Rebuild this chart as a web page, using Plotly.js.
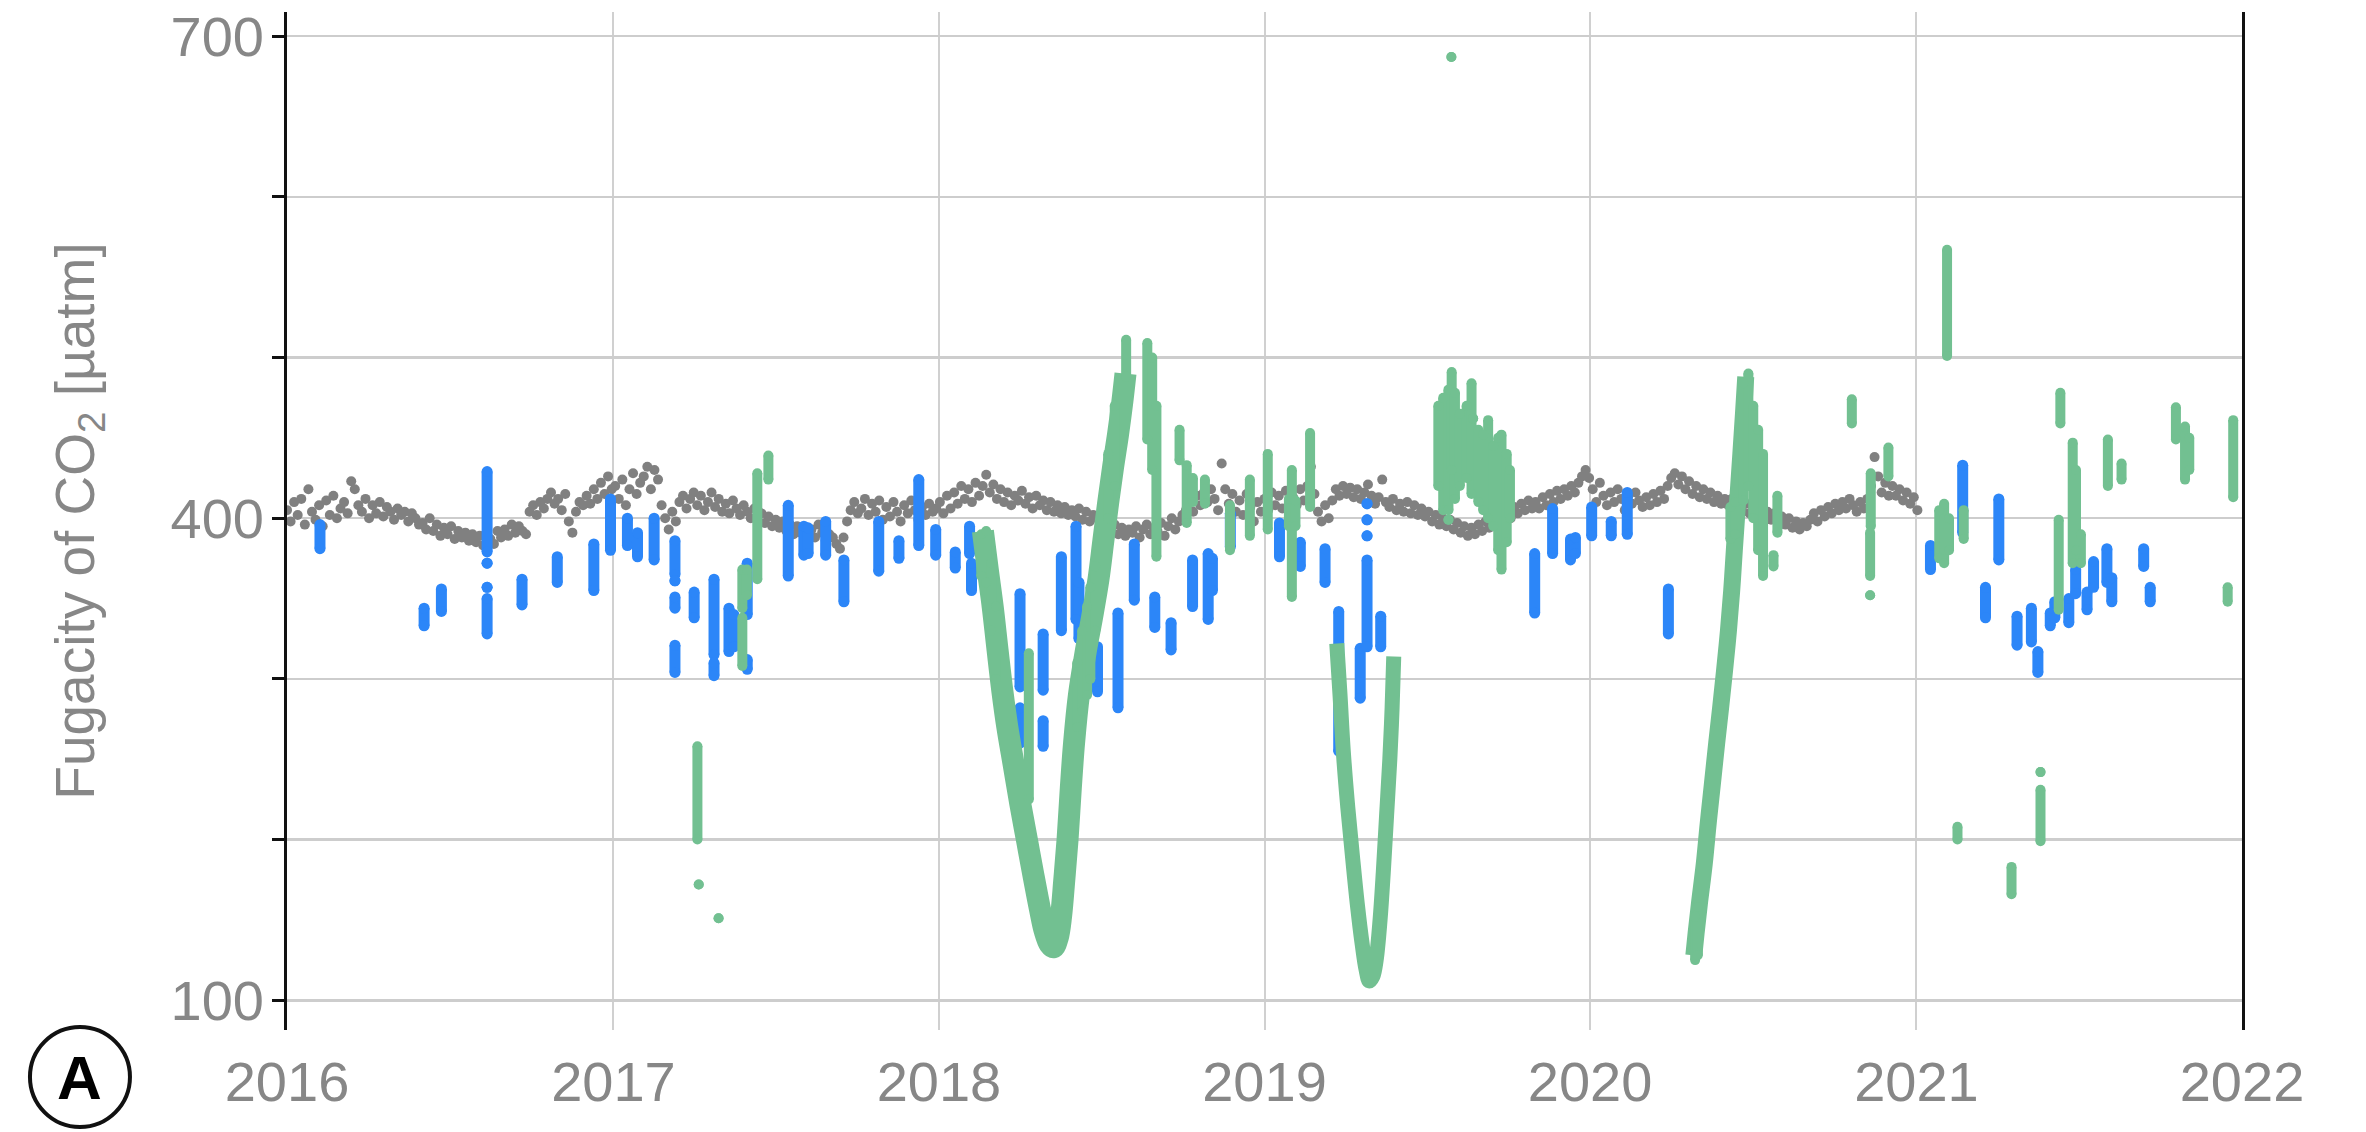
<!DOCTYPE html>
<html><head><meta charset="utf-8">
<script src="https://cdn.plot.ly/plotly-3.0.1.min.js"></script>
<style>html,body{margin:0;padding:0;background:#fff}#chart{width:2366px;height:1132px}</style>
</head><body><div id="chart"></div>
<script>
// ---------- axis labels ----------
const yearLabels = ['2016','2017','2018','2019','2020','2021','2022'];
const yGridVals = [100,200,300,400,500,600,700];
const yLabelVals = [100,400,700];

// ---------- grey series (atmospheric), one reading every 4 days from 2016-01-01 ----------
const greyStart = '2016-01-01';
const greyStepDays = 4;
const greyVals = [
// 2016
405,398,410,402,412,396,418,404, 399,408,395,411,402,414,400, 406,410,403,423,418,408,404,412,
400,408,403,410,401,407,404, 399,406,402,404,398,403,400,396, 397,393,400,392,396,389,394,
390,395,387,392,388,391,386,390, 385,389,383,391,387,384,392,388, 393,389,396,391,395,392,390,
404,408,402,410,406,412,416,409, 412,405,415,398,391,404,410,408, 414,409,418,412,422,415,426,418,
// 2017
420,412,424,408,418,428,415,422, 426,432,418,430,424,408,400, 393,404,398,410,414,406,412,416,
408,414,405,410,416,407,412,404, 409,403,411,406,402,408,404, 400,406,398,403,397,401,395,399,
394,398,392,396,390,395,391,394, 389,393,388,396,391,386,390, 388,384,381,388,398,405,410,403,
406,412,402,409,404,411,399, 407,401,410,404,398,408,403,411, 405,399,407,402,409,404,406,
// 2018
410,403,414,406,416,409,420,412, 418,410,422,414,420,427,416, 421,412,418,410,416,408,414,411,
417,409,413,406,414,408,411,405, 410,404,408,403,407,402,405, 401,406,399,404,398,402,400,397,
395,399,392,396,390,394,389,393, 391,395,388,393,396,390,394, 392,397,389,395,400,393,398,402,
405,410,404,414,408,416,410,418, 412,405,434,418,409,415,404, 411,402,415,407,398,410,404,
// 2019
412,405,416,408,414,406,417,410, 413,408,418,411,420,432,415, 404,398,408,400,411,418,414,420,
415,419,413,418,412,416,421, 414,409,413,424,410,407,412,405, 409,404,410,403,408,402,406,
401,404,398,402,396,400,395,399, 393,397,391,395,389,394,390,396, 392,398,394,400,396,402,399,
404,400,407,403,409,405,411,406, 410,406,413,408,415,410,417, 412,418,414,420,416,422,426,430,
// 2020
425,
418,410,422,414,408,416,410,418, 412,405,414,409,416,411,407, 413,408,415,410,417,412,420,425,
428,421,426,418,423,415,420,413, 418,412,416,410,414,409,412, 408,412,406,410,404,409,403,406,
402,406,400,404,399,403,398,401, 396,400,394,398,393,397,395, 399,403,398,405,401,407,403,409,
405,410,406,412,408,404,410,406, 412,420,438,426,416,422,414, 420,414,418,411,416,409,413,405
];

// ---------- blue streaks: decimal year, lowest and highest reading ----------
const blueT = [
2016.101,2016.42,2016.473,2016.613,2016.613,2016.613,2016.613,2016.72,2016.828,2016.94,2016.991,
2017.043,2017.074,2017.125,2017.189,2017.189,2017.189,2017.189,2017.248,2017.309,2017.309,2017.355,2017.37,2017.411,2017.411,2017.537,2017.585,2017.598,2017.652,2017.708,2017.815,2017.877,2017.938,2017.99,
2018.05,2018.094,2018.1,2018.249,2018.249,2018.32,2018.32,2018.376,2018.421,2018.43,2018.487,2018.55,2018.6,2018.663,2018.713,2018.779,2018.827,2018.84,2018.895,
2019.046,2019.11,2019.186,2019.228,2019.294,2019.315,2019.315,2019.315,2019.315,2019.357,2019.83,2019.885,2019.94,2019.955,2020.005,
2020.065,2020.114,2020.24,
2021.043,2021.142,2021.212,2021.253,2021.309,2021.353,2021.373,2021.411,2021.425,2021.468,2021.489,2021.524,2021.544,2021.585,2021.6,2021.698,2021.718
];
const blueLo = [
381,333,342,379,372,357,328,346,360,355,380,
383,376,374,365,361,344,304,338,315,302,317,320,340,306,364,377,378,377,348,367,375,383,377,
369,378,355,295,260,293,258,330,337,325,292,282,349,332,318,345,337,355,382,
376,370,360,255,288,409,399,389,320,320,341,378,374,378,389,
389,390,328,
368,391,338,374,321,323,304,333,338,335,353,343,357,360,348,370,348
];
const blueHi = [
396,344,356,429,372,357,350,362,376,384,412,
400,391,400,386,361,351,321,354,362,310,344,340,372,312,408,395,394,398,374,398,386,424,393,
379,395,372,353,282,328,274,376,395,360,320,341,384,351,335,374,378,375,403,
397,385,381,342,319,409,399,389,374,339,378,406,387,388,407,
398,416,356,
383,433,357,412,339,344,317,341,348,350,368,354,373,381,363,381,357
];

// ---------- green streaks: decimal year, lowest and highest reading ----------
const greenT = [
2017.258,2017.262,2017.323,2017.396,2017.396,2017.41,2017.442,2017.476,
2018.13,2018.145,2018.16,2018.175,2018.276,2018.425,2018.44,2018.455,2018.465,2018.48,2018.52,2018.54,2018.575,2018.64,2018.655,2018.668,2018.739,2018.761,2018.78,2018.817,2018.894,2018.955,2019.01,
2019.075,2019.084,2019.095,2019.14,
2019.534,2019.549,2019.565,2019.565,2019.575,2019.585,2019.6,2019.621,2019.636,2019.641,2019.657,2019.672,2019.687,2019.703,2019.718,2019.728,2019.744,2019.754,
2019.574,
2020.322,2020.33,2020.43,2020.445,2020.47,2020.485,2020.5,2020.515,2020.53,2020.562,2020.574,2020.802,2020.858,2020.858,2020.86,2020.914,
2021.07,2021.085,2021.094,2021.1,2021.126,2021.145,2021.292,2021.381,2021.381,2021.437,2021.442,2021.48,2021.49,2021.505,2021.588,2021.63,2021.797,2021.825,2021.838,2021.956,2021.973
];
const greenLo = [
200,172,151,308,344,352,362,424,
364,360,330,300,225,270,280,290,300,330,400,420,488,449,430,376,436,397,410,409,380,389,393,
395,351,395,407,
420,405,399,405,430,412,420,425,415,462,410,405,400,395,380,368,385,400,
687,
125,128,387,390,411,420,400,380,364,370,391,459,352,364,395,426,
375,372,501,380,200,387,166,242,199,343,459,372,380,372,420,424,449,424,430,348,413
];
const greenHi = [
258,172,151,338,368,368,428,439,
390,392,372,345,316,310,330,345,357,370,440,470,511,509,500,470,455,433,425,424,408,424,440,
412,430,411,453,
470,475,399,480,491,478,465,470,484,462,455,452,461,445,450,452,440,430,
687,
152,158,407,410,484,490,470,455,440,377,414,474,352,391,428,444,
405,409,567,400,208,405,183,242,231,399,478,447,430,390,449,434,469,457,450,357,461
];

// ---------- green seasonal drawdown curves (decimal year, reading) ----------
const arm2018T = [2018.135,2018.15,2018.165,2018.18,2018.195,2018.21,2018.23,2018.25,2018.27,2018.29,2018.31,2018.325,2018.34,2018.352,2018.365,2018.375,2018.385,2018.395,2018.405,2018.415,2018.43,2018.45,2018.47,2018.49,2018.505,2018.52,2018.535,2018.55,2018.563,2018.573];
const arm2018V = [392,368,345,318,292,270,246,222,200,178,157,143,135,133,139,152,175,200,232,260,290,316,338,362,386,410,432,452,472,490];
const arm2019T = [2019.222,2019.232,2019.242,2019.255,2019.27,2019.285,2019.3,2019.312,2019.322,2019.333,2019.343,2019.355,2019.365,2019.375,2019.385,2019.392,2019.397];
const arm2019V = [322,290,255,222,190,160,135,119,112,115,125,150,180,215,250,282,314];
const arm2020T = [2020.318,2020.325,2020.335,2020.35,2020.362,2020.375,2020.388,2020.4,2020.412,2020.424,2020.434,2020.442,2020.452,2020.462,2020.47,2020.477];
const arm2020V = [128,142,160,185,210,235,260,282,305,330,355,380,410,440,465,488];

// ---------- colours ----------
const GREY = 'rgb(128,128,128)', BLUE = 'rgb(44,134,248)', GREEN = 'rgb(114,192,145)';

function toDate(t){
  const y = Math.floor(t);
  const s = Date.UTC(y,0,1), e = Date.UTC(y+1,0,1);
  return new Date(s + (t - y) * (e - s)).toISOString();
}
function streaks(T, Lo, Hi){
  const x = [], y = [];
  for (let i = 0; i < T.length; i++){
    const d = toDate(T[i]);
    x.push(d, d, null); y.push(Lo[i], Hi[i], null);
  }
  return {x, y};
}
const g0 = Date.parse(greyStart + 'T00:00:00Z');
const greyX = greyVals.map((v, i) => new Date(g0 + i * greyStepDays * 86400000).toISOString());

const bS = streaks(blueT, blueLo, blueHi);
const gS = streaks(greenT, greenLo, greenHi);

const traces = [
  {type:'scatter', mode:'markers', x:greyX, y:greyVals, marker:{color:GREY, size:10}, hoverinfo:'skip'},
  {type:'scatter', mode:'lines+markers', x:bS.x, y:bS.y, line:{color:BLUE, width:11}, marker:{color:BLUE, size:11}, connectgaps:false, hoverinfo:'skip'},
  {type:'scatter', mode:'lines', x:arm2018T.map(toDate), y:arm2018V, line:{color:GREEN, width:22, shape:'spline'}, hoverinfo:'skip'},
  {type:'scatter', mode:'lines', x:arm2019T.map(toDate), y:arm2019V, line:{color:GREEN, width:15, shape:'spline'}, hoverinfo:'skip'},
  {type:'scatter', mode:'lines', x:arm2020T.map(toDate), y:arm2020V, line:{color:GREEN, width:17, shape:'spline'}, hoverinfo:'skip'},
  {type:'scatter', mode:'lines+markers', x:gS.x, y:gS.y, line:{color:GREEN, width:10}, marker:{color:GREEN, size:10}, connectgaps:false, hoverinfo:'skip'},
  {type:'scatter', mode:'markers', x:[], y:[], yaxis:'y2', hoverinfo:'skip'}
];

const TXT = '#878787';
const FONT = '"Liberation Sans", Arial, sans-serif';
const layout = {
  width:2366, height:1132,
  margin:{l:287, r:124, t:12, b:102, pad:0},
  paper_bgcolor:'#ffffff', plot_bgcolor:'#ffffff',
  showlegend:false,
  font:{family:FONT, color:TXT},
  xaxis:{
    type:'date', range:['2016-01-01','2022-01-01'],
    tickvals:yearLabels.map(s => s + '-01-01'), ticktext:yearLabels,
    tickfont:{size:56, color:TXT}, ticks:'', ticklabelstandoff:14,
    showgrid:true, gridcolor:'#d0d0d0', gridwidth:2,
    showline:false, zeroline:false
  },
  yaxis:{
    range:[81.5,715],
    tickvals:yGridVals, showticklabels:false,
    ticks:'outside', ticklen:12, tickwidth:3, tickcolor:'#111',
    showline:true, linecolor:'#111', linewidth:3, mirror:true,
    showgrid:true, gridcolor:'#cdcdcd', gridwidth:2.5, zeroline:false
  },
  yaxis2:{
    overlaying:'y', side:'left', anchor:'x',
    range:[81.5,715],
    tickvals:yLabelVals, ticktext:yLabelVals.map(String),
    tickfont:{size:56, color:TXT}, ticks:'', ticklabelstandoff:22,
    showline:false, showgrid:false, zeroline:false,
    title:{text:'Fugacity of CO<sub>2</sub> [µatm]', font:{size:55, color:TXT}, standoff:58}
  },
  shapes:[{
    type:'circle', xref:'paper', yref:'paper', xsizemode:'pixel', ysizemode:'pixel',
    xanchor:-0.1059, yanchor:-0.0462, x0:-50, x1:50, y0:-50, y1:50,
    line:{color:'#111', width:4}, fillcolor:'rgba(0,0,0,0)'
  }],
  annotations:[{
    xref:'paper', yref:'paper', x:-0.1059, y:-0.0462, xanchor:'center', yanchor:'middle',
    text:'<b>A</b>', showarrow:false, font:{size:62, color:'#000', family:FONT}
  }]
};

Plotly.newPlot('chart', traces, layout, {staticPlot:true, displayModeBar:false});
</script>
</body></html>
